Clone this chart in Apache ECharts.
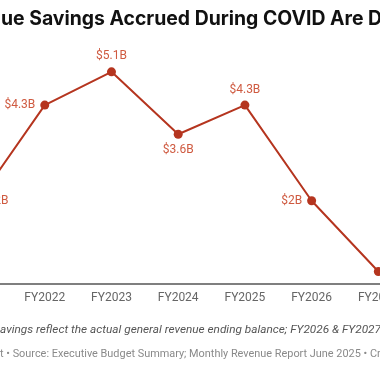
<!DOCTYPE html>
<html><head><meta charset="utf-8">
<script src="https://cdn.jsdelivr.net/npm/echarts@6/dist/echarts.min.js"></script>
<style>html,body{margin:0;padding:0;background:#fff;overflow:hidden;width:380px;height:380px;position:relative}#c{position:absolute;left:-60px;top:0;width:480px;height:380px}</style>
</head><body><div id="c"></div>
<script>
const categories = ['FY2021','FY2022','FY2023','FY2024','FY2025','FY2026','FY2027'];
const savings = [2.0, 4.3, 5.1, 3.6, 4.3, 2.0, 0.3];
const labelPositions = ['right','left','top','bottom','top','left','right'];
const titleText = 'ue Savings Accrued During COVID Are D';
const noteText = 'avings reflect the actual general revenue ending balance; FY2026 & FY2027';
const sourceText = 't \u2022 Source: Executive Budget Summary; Monthly Revenue Report June 2025 \u2022 Cr';

const OFF = 60;
const chart = echarts.init(document.getElementById('c'), null, {renderer:'canvas'});
const fmt = v => '$' + (+v.toFixed(1)).toString() + 'B';
chart.setOption({
  animation:false,
  textStyle:{fontFamily:'Roboto'},
  graphic:[
    {type:'text',left:OFF+1,top:10,style:{text:titleText,font:'bold 19.4px Inter',fill:'#111'}},
    {type:'text',left:OFF,top:324,style:{text:noteText,font:'italic 11.8px Roboto',fill:'#555'}},
    {type:'text',left:OFF,top:349,style:{text:sourceText,font:'10.9px Roboto',fill:'#8a8a8a'}}
  ],
  grid:{left:OFF-55.3,right:480-OFF-411.7,top:34.4,bottom:96},
  xAxis:{type:'category',data:categories,boundaryGap:true,
    axisLine:{lineStyle:{color:'#555',width:1.5}},axisTick:{show:false},
    axisLabel:{color:'#666',fontSize:12,margin:8}},
  yAxis:{type:'value',min:0,max:6,show:false,splitLine:{show:false}},
  series:[{type:'line',data:savings.map((v,i)=>({value:v,label:{position:labelPositions[i]}})),
    symbol:'circle',symbolSize:9,
    lineStyle:{color:'#b5351f',width:2},
    itemStyle:{color:'#b5351f'},
    label:{show:true,distance:5,color:'#cf5a40',fontSize:12,formatter:p=>fmt(p.value)}}]
});
</script></body></html>
